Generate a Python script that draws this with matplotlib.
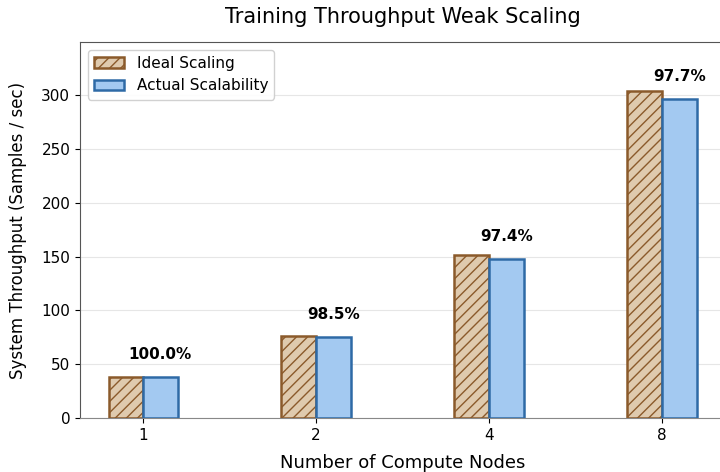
import matplotlib
matplotlib.use("Agg")
import matplotlib.pyplot as plt
import numpy as np

nodes = ["1", "2", "4", "8"]
ideal = [38.0, 76.0, 152.0, 304.0]
actual = [38.0, 74.9, 148.0, 297.0]
efficiency = ["100.0%", "98.5%", "97.4%", "97.7%"]

fig = plt.figure(figsize=(7.2, 4.72), dpi=100)
ax = fig.add_axes([80/720, 54/472, 646/720, 376/472])

x = np.arange(len(nodes))
w = 0.2
plt.rcParams['hatch.linewidth'] = 1.0
ax.bar(x - w/2, ideal, w, color="#dfcaae", edgecolor="#8b5a2b", hatch="///",
       linewidth=1.8, label="Ideal Scaling", zorder=3)
ax.bar(x + w/2, actual, w, color="#a3c9f1", edgecolor="#2e6aa6",
       linewidth=1.8, label="Actual Scalability", zorder=3)

for i in range(len(nodes)):
    ax.text(x[i] + w/2, actual[i] + 14, efficiency[i], ha="center", va="bottom",
            fontsize=11, fontweight="bold")

ax.set_xticks(x)
ax.set_xticklabels(nodes, fontsize=11)
ax.tick_params(axis="y", labelsize=11)
ax.set_xlim(-0.365, 3.37)
ax.set_ylim(0, max(ideal) * 1.15)
ax.set_xlabel("Number of Compute Nodes", fontsize=13, labelpad=8)
ax.set_ylabel("System Throughput (Samples / sec)", fontsize=12, labelpad=10)
ax.set_title("Training Throughput Weak Scaling", fontsize=15, pad=14)
ax.yaxis.grid(True, color="#e6e6e6", linewidth=0.8, zorder=0)
ax.set_axisbelow(True)
for s in ax.spines.values():
    s.set_color("#555555")
ax.spines["bottom"].set_color("#888888")
ax.legend(loc="upper left", fontsize=11, framealpha=0.9)

fig.savefig("out.png", dpi=100)
